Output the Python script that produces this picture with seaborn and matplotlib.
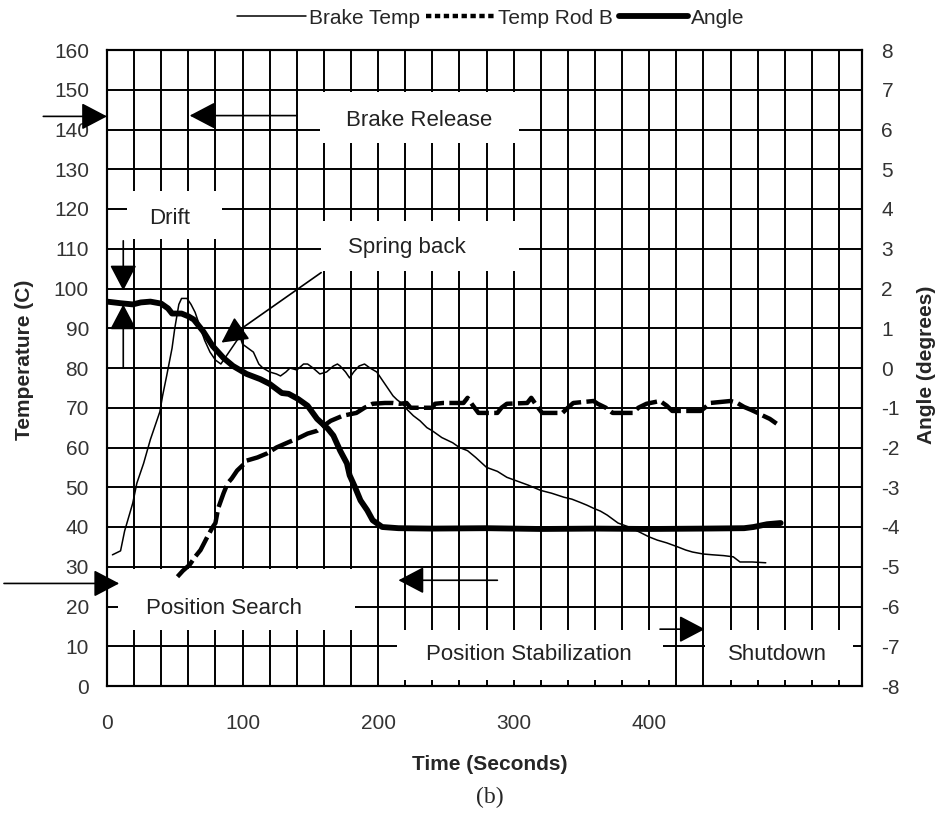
import numpy as np
import matplotlib
matplotlib.use("Agg")
import matplotlib.pyplot as plt
from matplotlib.patches import Rectangle
from matplotlib.lines import Line2D
import seaborn as sns

# values (time in s, temperature in C, angle in degrees)
brake_time = [4, 10, 13, 19, 22, 27, 32, 36, 39, 41, 44, 48, 50, 53, 55, 59, 62, 65, 68, 72,
              76, 80, 84, 88, 92, 96, 98, 100, 104, 108, 112, 115, 120, 125, 128, 132, 135, 140,
              145, 148, 152, 157, 162, 167, 170, 172, 176, 179, 182, 186, 190, 194, 199, 203,
              207, 211, 214, 218, 221, 226, 231, 236, 240, 247, 255, 260, 266, 272, 280, 288,
              295, 303, 311, 320, 328, 337, 343, 349, 354, 359, 364, 369, 373, 377, 385, 393,
              400, 406, 413, 421, 427, 432, 440, 447, 455, 462, 467, 476, 486]
brake_temp = [33, 34, 39, 46, 51, 56, 62, 66, 69, 73, 78, 85, 90, 96, 97.5, 97.5, 96, 94, 91, 87,
              84, 82, 81, 83, 85, 87, 88, 86, 85, 84, 81, 80, 79, 78.5, 78, 79, 80, 79.5,
              81, 81, 80, 78.5, 79, 80.5, 81, 80.5, 79, 77.5, 79, 80.5, 81, 80, 79, 77,
              75, 73, 72, 71, 69.7, 68, 66.7, 65, 64.2, 62.5, 61.2, 60, 59.2, 57.5, 55, 54,
              52.5, 51.5, 50.5, 49.2, 48.5, 47.5, 47, 46.2, 45.5, 44.7, 44, 43, 42, 41, 40, 38.7,
              37.5, 36.7, 36, 35, 34.2, 33.7, 33.2, 33, 32.8, 32.5, 31.2, 31.2, 31]

rod_time = [52, 56, 61, 65, 69, 74, 78, 80, 82, 86, 89, 92, 96, 100, 103, 111, 118, 125, 133,
            142, 148, 155, 160, 165, 174, 184, 190, 196, 205, 211, 216, 221, 224, 240, 242, 248,
            263, 266, 269, 274, 288, 291, 295, 310, 313, 317, 321, 336, 340, 344, 359, 362, 368,
            373, 388, 392, 398, 408, 413, 417, 438, 441, 445, 460, 465, 470, 475, 480, 484, 489, 494]
rod_temp = [27.5, 29, 30.5, 32.5, 34.2, 37.5, 40, 41, 44.7, 48.5, 51, 52.2, 54.2, 55.5, 56.7, 57.5,
            58.5, 60, 61.2, 62.5, 63.5, 64.2, 65.5, 66.7, 68, 68.7, 70, 71, 71.2, 71.2, 71, 71.2,
            70, 70, 71, 71.2, 71.2, 72.5, 71, 68.7, 68.7, 70, 71, 71.2, 72.5, 70.5, 68.7, 68.7,
            70, 71.2, 71.7, 71, 70, 68.7, 68.7, 70, 71, 71.7, 70.5, 69.2, 69.2, 70, 71.2, 71.7,
            71.2, 70.2, 69.5, 68.7, 68, 67.2, 66]

angle_time = [0, 10, 19, 25, 32, 40, 45, 48, 55, 60, 64, 71, 78, 86, 93, 103, 113, 120, 129, 134,
              141, 148, 155, 163, 167, 172, 177, 179, 183, 187, 192, 196, 203, 215, 240, 280, 320,
              360, 400, 440, 470, 477, 487, 497]
angle_deg = [1.67, 1.63, 1.6, 1.65, 1.67, 1.62, 1.5, 1.37, 1.37, 1.3, 1.22, 0.92, 0.55, 0.25, 0.05,
             -0.15, -0.28, -0.4, -0.63, -0.65, -0.78, -0.95, -1.28, -1.53, -1.7, -2.08, -2.4, -2.7,
             -3.0, -3.33, -3.58, -3.83, -4.0, -4.03, -4.04, -4.03, -4.05, -4.04, -4.05, -4.04, -4.03,
             -4.0, -3.93, -3.9]

time_ticks = [0, 100, 200, 300, 400]
temp_ticks = list(range(0, 161, 10))
angle_ticks = list(range(-8, 9))
series_names = ["Brake Temp", "Temp Rod B", "Angle"]

sns.set_style("white")
plt.rcParams['font.family'] = ['Liberation Sans', 'DejaVu Sans']
plt.rcParams['axes.unicode_minus'] = False

fig = plt.figure(figsize=(9.44, 8.16), dpi=100)
ax = fig.add_axes([107/944, 130/816, 755/944, 636/816])
ax2 = ax.twinx()

ax.set_xlim(0, 557)
ax.set_ylim(0, 160)
ax2.set_ylim(-8, 8)
ax.set_xticks(time_ticks)
ax.set_xticks(np.arange(0, 557, 20), minor=True)
ax.set_yticks(temp_ticks)
ax2.set_yticks(angle_ticks)
ax.set_axisbelow(True)
ax.grid(which='both', axis='x', color='black', lw=1.4)
ax.grid(which='major', axis='y', color='black', lw=1.4)
ax2.grid(False)

ax.tick_params(axis='y', length=0, labelsize=15, labelcolor='#333333', pad=13)
ax.tick_params(axis='x', which='both', length=0, labelsize=15, labelcolor='#333333', pad=20)
ax2.tick_params(axis='y', length=0, labelsize=15, labelcolor='#333333', pad=14)
for a in (ax, ax2):
    for s in a.spines.values():
        s.set_color('black')
        s.set_linewidth(1.5)

# white label areas that break the grid
boxes = [(157, 136.5, 147, 13), (15, 112.5, 70, 12), (158, 104.5, 146, 12.5),
         (8, 14, 175, 15.5), (214, 1.5, 196, 12.5), (441, 1.5, 109, 12.5)]
for x0, y0, w, h in boxes:
    ax.add_patch(Rectangle((x0, y0), w, h, facecolor='white', edgecolor='none', zorder=1))

labels = [(230, 142.2, "Brake Release"), (46, 117.7, "Drift"), (221, 110.3, "Spring back"),
          (86, 19.6, "Position Search"), (311, 7.8, "Position Stabilization"), (495, 7.8, "Shutdown")]
for x, y, s in labels:
    ax.text(x, y, s, ha='center', va='center', fontsize=16, color='#222222', zorder=2)

arrows = [((0, 143.3), (-47, 143.3)), ((61, 143.5), (140, 143.5)),
          ((12, 99.5), (12, 112)), ((12, 96), (12, 80)),
          ((84.5, 86.4), (158, 104)), ((9, 25.8), (-76, 25.8)),
          ((215, 26.6), (288, 26.6)), ((441, 14.3), (408, 14.3))]
for tip, tail in arrows:
    ax.annotate('', xy=tip, xytext=tail, annotation_clip=False, zorder=5,
                arrowprops=dict(arrowstyle='-|>,head_length=0.8,head_width=0.42', mutation_scale=20,
                                color='black', lw=1.2, shrinkA=0, shrinkB=0))

sns.lineplot(x=brake_time, y=brake_temp, ax=ax, color='black', lw=1.1, sort=False,
             estimator=None, zorder=3)
sns.lineplot(x=rod_time, y=rod_temp, ax=ax, color='black', lw=3.2, sort=False,
             estimator=None, linestyle=(0, (5, 1.2)), zorder=3)
sns.lineplot(x=angle_time, y=angle_deg, ax=ax2, color='black', lw=4.2, sort=False,
             estimator=None, zorder=3)
ax.set_xlabel("")
ax.set_ylabel("")
ax2.set_ylabel("")

handles = [Line2D([], [], color='black', lw=1.1),
           Line2D([], [], color='black', lw=3.2, linestyle=(0, (1.2, 0.8))),
           Line2D([], [], color='black', lw=4.2)]
fig.legend(handles, series_names, loc='center', bbox_to_anchor=(0.52, 1 - 18/816), ncol=3,
           frameon=False, fontsize=15, handlelength=3.3, handletextpad=0.15, columnspacing=0.3)

fig.text(25/944, 1 - 360/816, "Temperature (C)", rotation=90, ha='center', va='center',
         fontsize=15, fontweight='bold')
fig.text(926/944, 1 - 365/816, "Angle (degrees)", rotation=90, ha='center', va='center',
         fontsize=15, fontweight='bold')
fig.text(490/944, 1 - 765/816, "Time (Seconds)", ha='center', va='center',
         fontsize=15, fontweight='bold')
fig.text(490/944, 1 - 797/816, "(b)", ha='center', va='center', fontsize=17,
         family='Liberation Serif')

fig.savefig("out.png", dpi=100)
